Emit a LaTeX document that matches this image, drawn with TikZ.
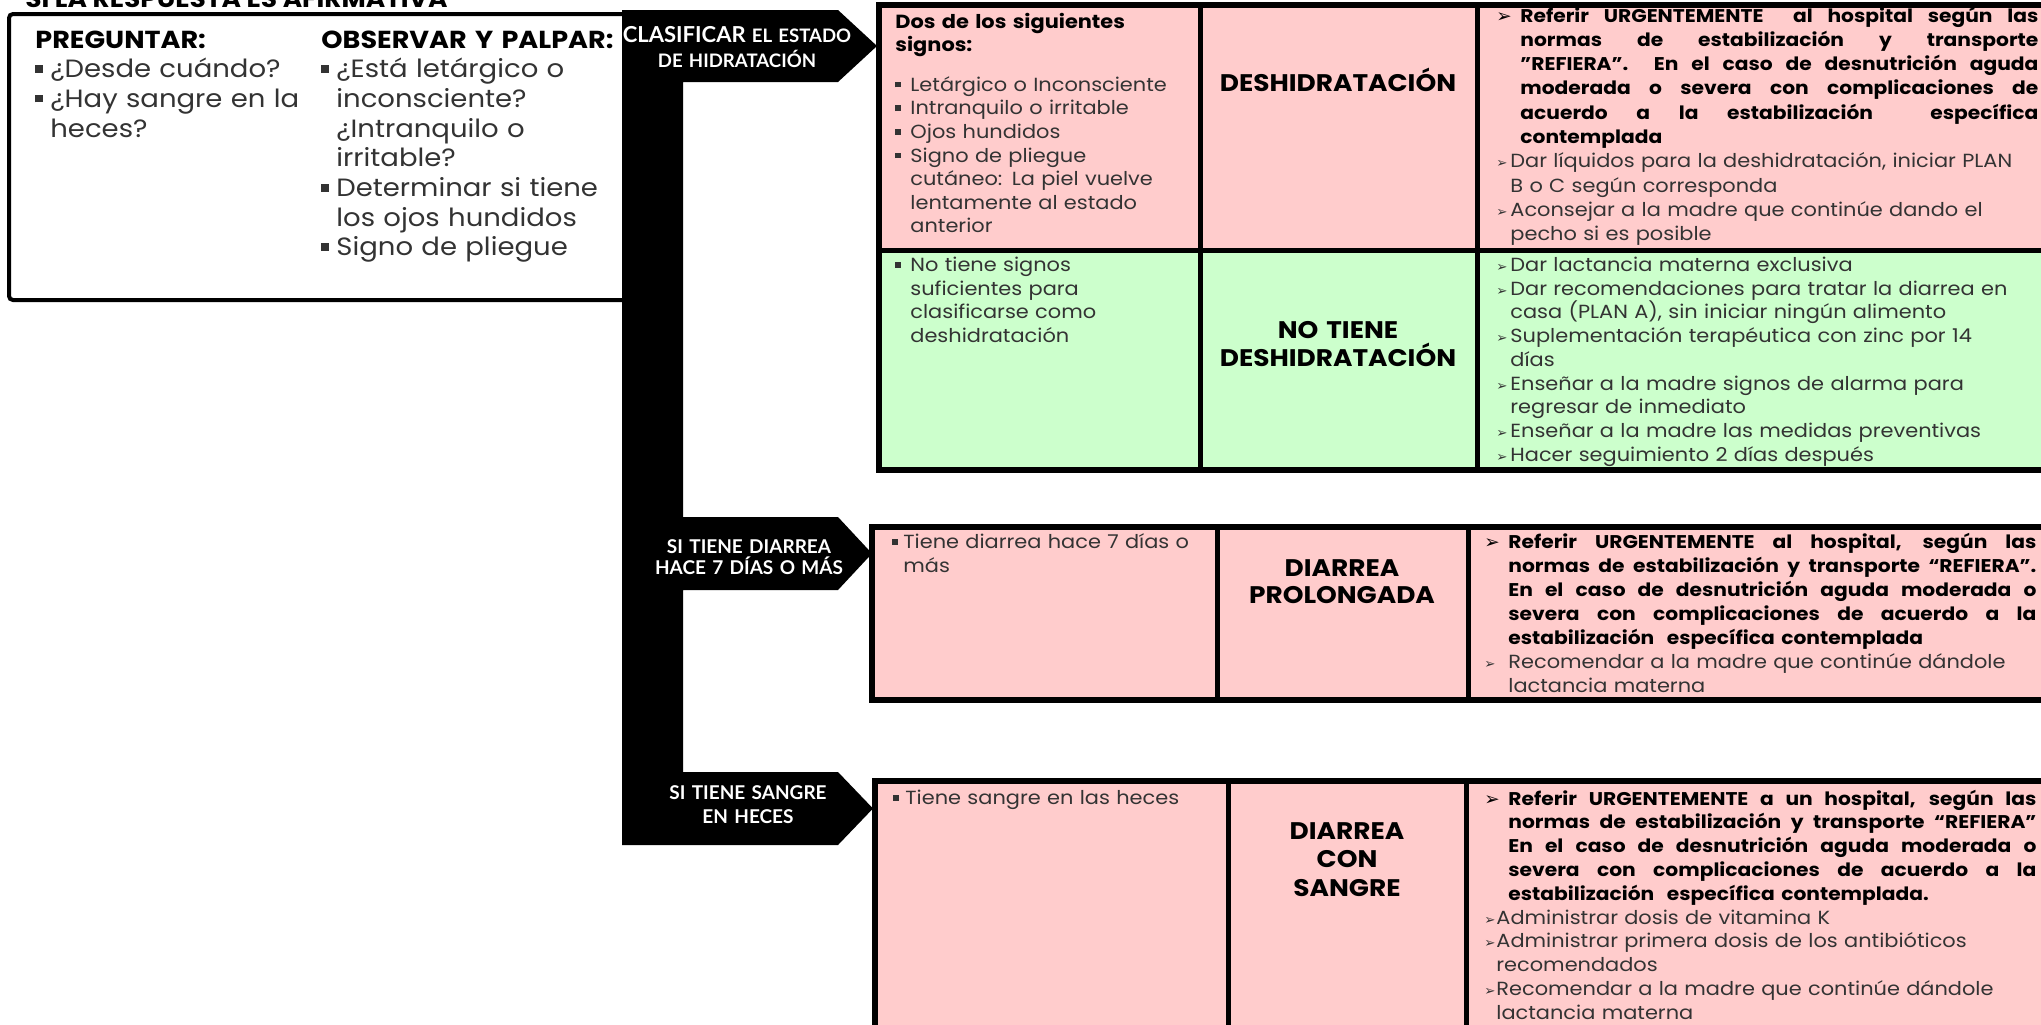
\documentclass[tikz,border=0pt]{standalone}
\usepackage{fontspec}
\usepackage{graphicx}
\setmainfont{Poppins}[FakeStretch=1.1]
\newfontfamily\symfont{DejaVu Sans}
\newfontfamily\tagfont{Lato}
\usetikzlibrary{positioning}

\definecolor{rosa}{HTML}{FFCCCC}
\definecolor{verde}{HTML}{CCFFCC}
\definecolor{gristxt}{HTML}{333333}

\tolerance=10000
\hbadness=10000
\hfuzz=50pt

% square bullet, arrowhead items, justified lines
\newlength\hg
\newcommand{\sq}{\raisebox{0.2em}{\rule{0.3em}{0.3em}}}
\newcommand{\pto}[2]{{\rightskip=0pt plus 1fil\hangindent=#1\hangafter=1\noindent\makebox[#1][l]{\sq}#2\par}}
\newcommand{\jl}[1]{\makebox[\dimexpr\hsize-\hg\relax][s]{\spaceskip=0.3em plus 1fil\xspaceskip=0.3em plus 1fil #1}\newline}
\newcommand{\refb}[2]{{\bfseries\fontsize{9.2}{\the\baselineskip}\selectfont\setlength\hg{#1}\rightskip=0pt plus 1fil\hangindent=#1\hangafter=1\noindent\color{black}\makebox[#1][l]{\symfont ➢}#2\par}}
\newcommand{\refn}[2]{{\rightskip=0pt plus 1fil\hangindent=#1\hangafter=1\noindent\makebox[#1][l]{\scalebox{0.7}{\symfont ➢}}#2\par}}

\begin{document}
\begin{tikzpicture}[x=0.5pt,y=-0.5pt]
        \tikzstyle{celda}=[anchor=base west, inner sep=0pt, text=gristxt, font=\fontsize{9.5}{11.8}\selectfont]
        \tikzstyle{clase}=[anchor=base, inner sep=0pt, align=center, text width=130pt, font=\fontsize{12}{14}\selectfont\bfseries]
        \tikzstyle{etiq}=[anchor=base, inner sep=0pt, align=center, text width=120pt, text=white, font=\tagfont\bfseries\fontsize{9.3}{12.5}\selectfont]
        \useasboundingbox (0,0) rectangle (2041,1024);
        \clip (0,0) rectangle (2041,1024);
        % title and question box
        \node[anchor=base west, inner sep=0pt, font=\fontsize{12}{13}\selectfont\bfseries] (titulo) at (25,7) {SI LA RESPUESTA ES AFIRMATIVA};
        \draw[line width=2pt, rounded corners=2pt, fill=white] (9,14) rectangle (650,300);
        \begin{scope}
            \clip (0,0) rectangle (299,300);
            \node[celda, text width=140pt, font=\fontsize{12.5}{14.85}\selectfont] (preg) at (35,48)
                {{\bfseries\color{black}\fontsize{12.3}{14.85}\selectfont PREGUNTAR:}\par
                 \pto{7.5pt}{¿Desde cuándo?}
                 \pto{7.5pt}{¿Hay sangre en las\newline heces?}};
        \end{scope}
        \node[celda, text width=150pt, font=\fontsize{12.5}{14.85}\selectfont] (obs) at (321,48)
            {{\bfseries\color{black}\fontsize{12.3}{14.85}\selectfont OBSERVAR Y PALPAR:}\par
             \pto{7.5pt}{¿Está letárgico o\newline inconsciente?\newline ¿Intranquilo o\newline irritable?}
             \pto{7.5pt}{Determinar si tiene\newline los ojos hundidos}
             \pto{7.5pt}{Signo de pliegue}};
        % black spine with the three arrows
        \fill[black] (622,10) -- (838,10) -- (877,46) -- (838,82) -- (683,82) -- (683,517)
            -- (838,517) -- (872,553.5) -- (838,590) -- (683,590) -- (683,772)
            -- (838,772) -- (873,808.5) -- (838,845) -- (622,845) -- cycle;
        \node[etiq] (lbl1) at (737,42) {{\fontsize{11}{12.5}\selectfont CLASIFICAR} EL ESTADO\\DE HIDRATACIÓN};
        \node[etiq, font=\tagfont\bfseries\fontsize{9.5}{10.5}\selectfont] (lbl2) at (749,553) {SI TIENE DIARREA\\HACE 7 DÍAS O MÁS};
        \node[etiq, font=\tagfont\bfseries\fontsize{9.5}{12}\selectfont] (lbl3) at (748,799) {SI TIENE SANGRE\\EN HECES};
        % tables: left/top/bottom/first divider/second divider
        \foreach \l/\t/\b/\ca/\cb in {879/5/470/1200/1477, 872/527/700/1217/1468, 875/781/1040/1228/1466}
            \fill[rosa] (\l,\t) rectangle (2060,\b);
        \fill[verde] (879,250) rectangle (2060,470);
        \foreach \l/\t/\b/\ca/\cb in {879/5/470/1200/1477, 872/527/700/1217/1468, 875/781/1040/1228/1466} {
            \draw[line width=2.5pt] (\ca,\t) -- (\ca,\b) (\cb,\t) -- (\cb,\b);
            \draw[line width=3pt] (\l,\t) rectangle (2060,\b);
        }
        \draw[line width=2.5pt] (879,250) -- (2060,250);
        % table 1
        \node[celda, text width=150pt] (sig1) at (895,28)
            {{\bfseries\color{black}Dos de los siguientes\newline signos:}\par\vspace{8pt}
             \pto{7.5pt}{Letárgico o Inconsciente}
             \pto{7.5pt}{Intranquilo o irritable}
             \pto{7.5pt}{Ojos hundidos}
             \pto{7.5pt}{Signo de pliegue\newline cutáneo: La piel vuelve\newline lentamente al estado\newline anterior}};
        \node[clase] (cls1) at (1338,91) {DESHIDRATACIÓN};
        \node[celda, text width=271pt, font=\fontsize{9.5}{12.15}\selectfont] (act1) at (1496,22)
            {\refb{12pt}{\jl{Referir URGENTEMENTE\ \ al hospital según las}
                \jl{normas de estabilización y transporte}
                \jl{"REFIERA".\ \ En el caso de desnutrición aguda}
                \jl{moderada o severa con complicaciones de}
                \jl{acuerdo a la estabilización\ \ específica}
                contemplada}
             \refn{7pt}{Dar líquidos para la deshidratación, iniciar PLAN\newline B o C según corresponda}
             \refn{7pt}{Aconsejar a la madre que continúe dando el\newline pecho si es posible}};
        \node[celda, text width=150pt] (sig2) at (895,271.5)
            {\pto{7.5pt}{No tiene signos\newline suficientes para\newline clasificarse como\newline deshidratación}};
        \node[clase] (cls2) at (1338,338) {NO TIENE\\DESHIDRATACIÓN};
        \node[celda, text width=271pt, font=\fontsize{9.5}{11.85}\selectfont] (act2) at (1496,271.5)
            {\refn{7pt}{Dar lactancia materna exclusiva}
             \refn{7pt}{Dar recomendaciones para tratar la diarrea en\newline casa (PLAN A), sin iniciar ningún alimento}
             \refn{7pt}{Suplementación terapéutica con zinc por 14\newline días}
             \refn{7pt}{Enseñar a la madre signos de alarma para\newline regresar de inmediato}
             \refn{7pt}{Enseñar a la madre las medidas preventivas}
             \refn{7pt}{Hacer seguimiento 2 días después}};
        % table 2
        \node[celda, text width=150pt] (sig3) at (892,548.5)
            {\pto{5.5pt}{Tiene diarrea hace 7 días o\newline más}};
        \node[clase, font=\fontsize{12}{13.5}\selectfont\bfseries] (cls3) at (1342,576) {DIARREA\\PROLONGADA};
        \node[celda, text width=276pt, font=\fontsize{9.5}{12}\selectfont] (act3) at (1484,548)
            {\refb{12pt}{\jl{Referir URGENTEMENTE al hospital, según las}
                \jl{normas de estabilización y transporte “REFIERA”.}
                \jl{En el caso de desnutrición aguda moderada o}
                \jl{severa con complicaciones de acuerdo a la}
                estabilización\ \ específica contemplada}
             \refn{12pt}{Recomendar a la madre que continúe dándole\newline lactancia materna}};
        % table 3
        \node[celda, text width=150pt] (sig4) at (893,804.5)
            {\pto{6pt}{Tiene sangre en las heces}};
        \node[clase, font=\fontsize{12}{14.25}\selectfont\bfseries] (cls4) at (1347,839) {DIARREA\\CON\\SANGRE};
        \node[celda, text width=276pt, font=\fontsize{9.5}{11.9}\selectfont] (act4) at (1484,805)
            {\refb{12pt}{\jl{Referir URGENTEMENTE a un hospital, según las}
                \jl{normas de estabilización y transporte “REFIERA”}
                \jl{En el caso de desnutrición aguda moderada o}
                \jl{severa con complicaciones de acuerdo a la}
                estabilización\ \ específica contemplada.}
             \refn{6pt}{Administrar dosis de vitamina K}
             \refn{6pt}{Administrar primera dosis de los antibióticos\newline recomendados}
             \refn{6pt}{Recomendar a la madre que continúe dándole\newline lactancia materna}};
\end{tikzpicture}
\end{document}
